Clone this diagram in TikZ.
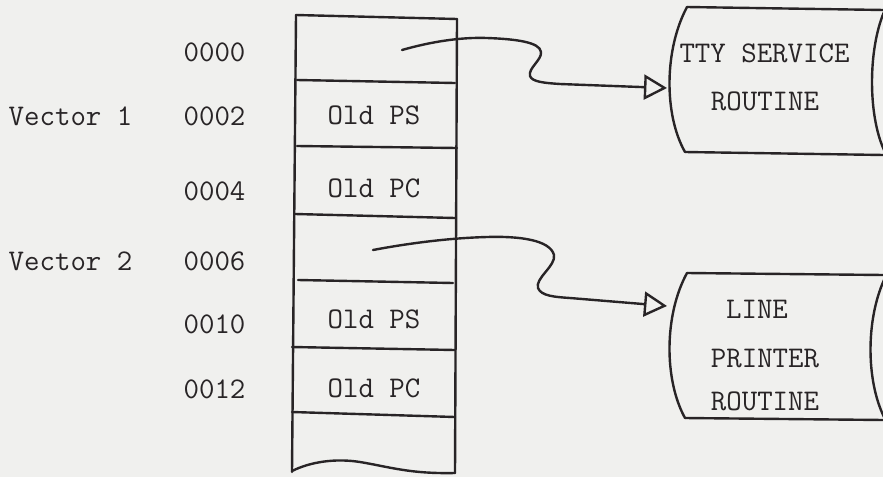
\documentclass[tikz,border=0pt]{standalone}
\usepackage{fontspec}
\usetikzlibrary{arrows.meta}
\definecolor{paper}{RGB}{240,240,238}
\definecolor{ink}{RGB}{40,36,38}
\tikzset{
  txt/.style={anchor=base, inner sep=0pt, text=ink, font=\ttfamily\fontsize{30}{30}\selectfont},
  pen/.style={draw=ink, line width=2.4pt, line cap=round, line join=round},
  conn/.style={pen, -{Triangle[open, length=23pt, width=25pt, line width=2.4pt]}}
}
\begin{document}
\begin{tikzpicture}[x=1pt,y=-1pt]
\fill[paper] (0,0) rectangle (883,477);
\useasboundingbox (0,0) rectangle (883,477);

% memory column
\draw[pen] (296,15) -- (457,19);
\draw[pen] (296,15) -- (292,472);
\draw[pen] (457,19) -- (455,473);
\draw[pen] (297,80) -- (455,83);
\draw[pen] (297,146) -- (457,148);
\draw[pen] (295,214) -- (455,218);
\draw[pen] (298,280) -- (453,283);
\draw[pen] (292,347) -- (455,350);
\draw[pen] (292,412) -- (455,417);
\draw[pen] (292,471) .. controls (310,462) and (335,458) .. (360,462)
  .. controls (390,467) and (410,474) .. (455,473);

% cell contents
\node[txt] (ps1) at (374,124) {Old PS};
\node[txt] (pc1) at (374,197) {Old PC};
\node[txt] (ps2) at (374,328) {Old PS};
\node[txt] (pc2) at (374,397) {Old PC};

% addresses
\node[txt] (a0) at (214.5,61) {0000};
\node[txt] (a2) at (214.5,125) {0002};
\node[txt] (a4) at (214.5,200) {0004};
\node[txt] (a6) at (214.5,270) {0006};
\node[txt] (a10) at (214.5,333) {0010};
\node[txt] (a12) at (214.5,398) {0012};
\node[txt] (v1) at (70.5,125) {Vector 1};
\node[txt] (v2) at (70.5,270) {Vector 2};

% TTY service routine box
\draw[pen] (687,7) -- (884,10);
\draw[pen] (685,152) -- (884,155);
\draw[pen] (687,7) .. controls (664,50) and (664,115) .. (685,152);
\draw[pen] (884,12) .. controls (868,50) and (868,115) .. (884,150);
\node[txt] (tty1) at (764.5,62) {TTY SERVICE};
\node[txt] (tty2) at (765,110) {ROUTINE};

% line printer routine box
\draw[pen] (687,273) -- (884,275);
\draw[pen] (685,418) -- (884,420);
\draw[pen] (687,273) .. controls (664,315) and (664,380) .. (685,418);
\draw[pen] (884,280) .. controls (866,320) and (866,380) .. (884,417);
\node[txt] (lp1) at (757,318) {LINE};
\node[txt] (lp2) at (765,367) {PRINTER};
\node[txt] (lp3) at (765,410) {ROUTINE};

% connectors
\coordinate (src1) at (402,50);
\coordinate (tip1) at (667,88);
\coordinate (src2) at (373,250);
\coordinate (tip2) at (667,306);
\draw[conn] (src1) .. controls (430,42) and (460,37) .. (487,38)
  .. controls (515,39) and (540,42) .. (541,52)
  .. controls (542,60) and (528,68) .. (530,76)
  .. controls (532,82) and (545,83) .. (560,84)
  -- (tip1);
\draw[conn] (src2) .. controls (410,243) and (450,238) .. (487,237)
  .. controls (520,236) and (550,240) .. (554,255)
  .. controls (556,266) and (535,278) .. (538,288)
  .. controls (541,296) and (555,297) .. (570,298)
  -- (tip2);
\end{tikzpicture}
\end{document}
